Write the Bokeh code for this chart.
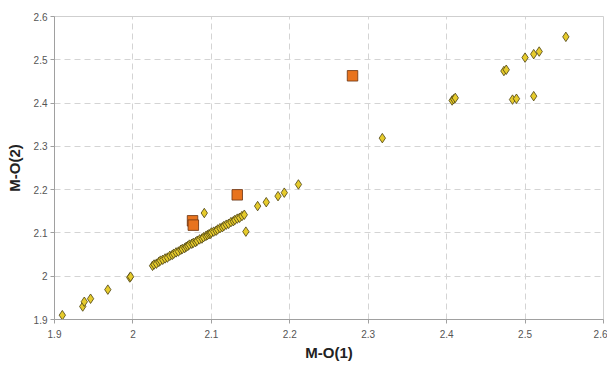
from bokeh.plotting import figure
from bokeh.models import FixedTicker, CustomJSTickFormatter, Range1d
from bokeh.embed import file_html
from bokeh.resources import INLINE

# yellow diamond series: M-O(1), M-O(2)
dia_x = [1.910, 1.936, 1.938, 1.946, 1.968, 1.996, 1.997,
         2.025, 2.027, 2.030, 2.033, 2.035, 2.038, 2.041, 2.044, 2.047, 2.050,
         2.052, 2.055, 2.058, 2.061, 2.063, 2.066, 2.068, 2.070, 2.072, 2.075,
         2.077, 2.080, 2.082, 2.085, 2.088, 2.090, 2.093, 2.095, 2.097, 2.099,
         2.100, 2.103, 2.106, 2.108, 2.111, 2.114, 2.116, 2.119, 2.122, 2.125,
         2.128, 2.130, 2.133, 2.136, 2.139, 2.142,
         2.091, 2.144, 2.159, 2.170, 2.185, 2.193, 2.211, 2.318,
         2.407, 2.409, 2.411, 2.473, 2.476, 2.484, 2.489, 2.500, 2.511, 2.511,
         2.518, 2.552]
dia_y = [1.910, 1.930, 1.941, 1.948, 1.969, 1.997, 1.999,
         2.024, 2.027, 2.029, 2.033, 2.036, 2.038, 2.041, 2.043, 2.047, 2.049,
         2.052, 2.055, 2.057, 2.061, 2.063, 2.065, 2.068, 2.070, 2.073, 2.075,
         2.077, 2.079, 2.082, 2.085, 2.087, 2.090, 2.093, 2.095, 2.097, 2.098,
         2.101, 2.103, 2.105, 2.108, 2.111, 2.113, 2.116, 2.119, 2.121, 2.125,
         2.127, 2.130, 2.133, 2.135, 2.139, 2.142,
         2.146, 2.103, 2.162, 2.171, 2.185, 2.193, 2.212, 2.319,
         2.406, 2.409, 2.412, 2.474, 2.477, 2.408, 2.410, 2.505, 2.513, 2.416,
         2.519, 2.553]

# orange square series
sq_x = [2.076, 2.077, 2.133, 2.280]
sq_y = [2.128, 2.118, 2.188, 2.463]

x_ticks = [1.9, 2.0, 2.1, 2.2, 2.3, 2.4, 2.5, 2.6]
y_ticks = [1.9, 2.0, 2.1, 2.2, 2.3, 2.4, 2.5, 2.6]

p = figure(frame_width=549, frame_height=303, output_backend="svg", toolbar_location=None,
           x_range=Range1d(1.9, 2.6), y_range=Range1d(1.9, 2.6),
           min_border_left=54, min_border_right=4, min_border_top=16, min_border_bottom=37)
p.background_fill_color = "white"
p.border_fill_color = "white"
p.outline_line_color = "#cfcfcf"
p.outline_line_width = 1

fmt = CustomJSTickFormatter(code="return (Math.round(tick*10)/10).toString();")
for ax, ticks in ((p.xaxis, x_ticks), (p.yaxis, y_ticks)):
    ax.ticker = FixedTicker(ticks=ticks)
    ax.formatter = fmt
    ax.axis_line_color = "#a0a0a0"
    ax.major_tick_line_color = "#a0a0a0"
    ax.major_tick_in = 0
    ax.major_tick_out = 4
    ax.minor_tick_line_color = None
    ax.major_label_text_font = "Liberation Sans"
    ax.major_label_text_font_size = "10px"
    ax.major_label_text_color = "#555555"
    ax.axis_label_text_font = "Liberation Sans"
    ax.axis_label_text_font_size = "15px"
    ax.axis_label_text_font_style = "bold"
    ax.axis_label_text_color = "#222222"

p.xaxis.axis_label = "M-O(1)"
p.yaxis.axis_label = "M-O(2)"
p.xaxis.major_label_standoff = 6
p.xaxis.axis_label_standoff = 3
p.yaxis.major_label_standoff = 3
p.yaxis.axis_label_standoff = 8

p.grid.grid_line_color = "#d4d4d4"
p.grid.grid_line_dash = "6 4"
p.grid.grid_line_width = 1

p.scatter(dia_x, dia_y, marker="diamond", size=9.5, fill_color="#E6CB2C",
          line_color="#4a4010", line_width=0.8)
p.scatter(sq_x, sq_y, marker="square", size=10.5, fill_color="#E8731E",
          line_color="#6a3210", line_width=0.8)

open("out.html", "w").write(file_html(p, INLINE))
